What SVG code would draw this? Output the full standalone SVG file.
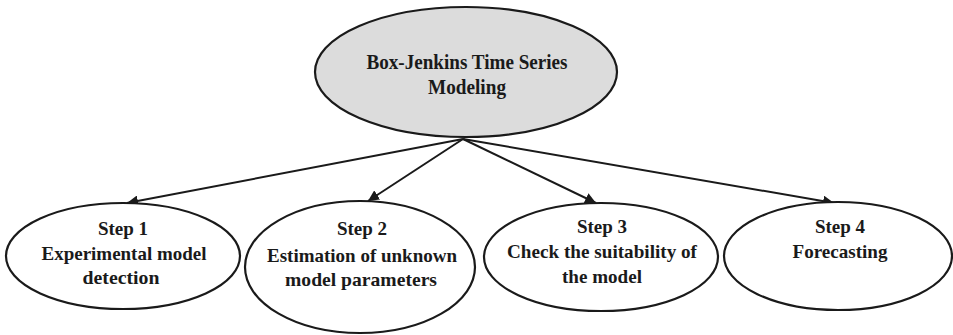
<svg xmlns="http://www.w3.org/2000/svg" width="953" height="335" viewBox="0 0 953 335">
<defs>
<style>
.node ellipse{stroke:#1a1a1a;stroke-width:2.2}
.t{font-family:"Liberation Serif","Times New Roman",serif;font-weight:bold;fill:#1a1a1a;text-anchor:middle}
.s{font-size:19px}
.h{font-size:22px}
.conn line{stroke:#1a1a1a;stroke-width:2;marker-end:url(#arr)}
</style>
<marker id="arr" viewBox="0 0 10 10" refX="10" refY="5" markerWidth="11" markerHeight="11" markerUnits="userSpaceOnUse" orient="auto">
<path d="M0,0 L10,5 L0,10 Z" fill="#1a1a1a"/>
</marker>
</defs>
<rect width="953" height="335" fill="#fff"/>
<g id="connectors" class="conn">
<line x1="463" y1="139" x2="127" y2="203"/>
<line x1="463" y1="139" x2="368" y2="201"/>
<line x1="463" y1="139" x2="596" y2="203"/>
<line x1="463" y1="139" x2="834" y2="203"/>
</g>
<g id="root" class="node">
<ellipse cx="466" cy="72" rx="151" ry="65" fill="#dcdcdc"/>
<text class="t h" x="467" y="69" textLength="201" lengthAdjust="spacingAndGlyphs">Box-Jenkins Time Series</text>
<text class="t h" x="467" y="94" textLength="78" lengthAdjust="spacingAndGlyphs">Modeling</text>
</g>
<g id="step1" class="node">
<ellipse cx="123" cy="256" rx="117" ry="53" fill="#fff"/>
<text class="t s" x="123" y="235">Step 1</text>
<text class="t s" x="124" y="260" textLength="165" lengthAdjust="spacingAndGlyphs">Experimental model</text>
<text class="t s" x="121" y="284" textLength="77" lengthAdjust="spacingAndGlyphs">detection</text>
</g>
<g id="step2" class="node">
<ellipse cx="360" cy="267" rx="115" ry="66" fill="#fff"/>
<text class="t s" x="362" y="235">Step 2</text>
<text class="t s" x="362" y="262" textLength="190" lengthAdjust="spacingAndGlyphs">Estimation of unknown</text>
<text class="t s" x="361" y="286" textLength="152" lengthAdjust="spacingAndGlyphs">model parameters</text>
</g>
<g id="step3" class="node">
<ellipse cx="601" cy="257" rx="117" ry="54" fill="#fff"/>
<text class="t s" x="602" y="233">Step 3</text>
<text class="t s" x="602" y="258" textLength="190" lengthAdjust="spacingAndGlyphs">Check the suitability of</text>
<text class="t s" x="602" y="283" textLength="80" lengthAdjust="spacingAndGlyphs">the model</text>
</g>
<g id="step4" class="node">
<ellipse cx="838" cy="256" rx="114" ry="54" fill="#fff"/>
<text class="t s" x="840" y="233">Step 4</text>
<text class="t s" x="840" y="258" textLength="95" lengthAdjust="spacingAndGlyphs">Forecasting</text>
</g>
</svg>
